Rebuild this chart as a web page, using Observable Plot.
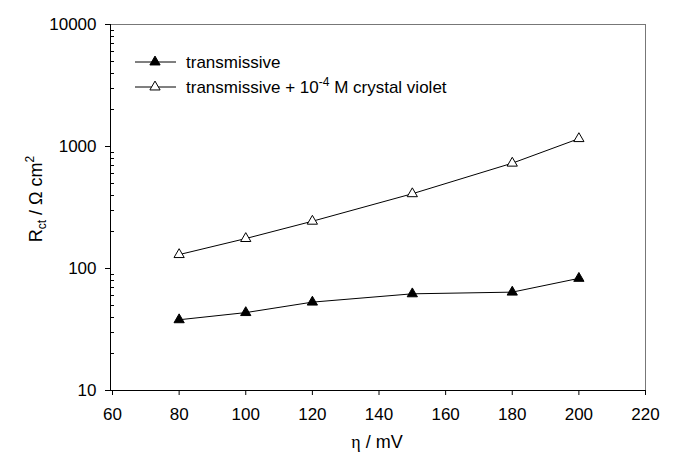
<!DOCTYPE html>
<html><head><meta charset="utf-8">
<script src="https://cdn.jsdelivr.net/npm/d3@7"></script>
<script src="https://cdn.jsdelivr.net/npm/@observablehq/plot@0.6"></script>
<style>body{margin:0;background:#fff;} #chart{width:677px;height:452px;}</style>
</head><body><div id="chart"></div>
<script>
const eta = [80, 100, 120, 150, 180, 200];
const rctTransmissive = [38, 43.5, 53, 62, 64, 83];
const rctCrystalViolet = [130, 176, 244, 410, 730, 1160];
const seriesNames = ["transmissive", "transmissive + 10-4 M crystal violet"];
const xTicks = [60, 80, 100, 120, 140, 160, 180, 200, 220];
const yMajorTicks = [10, 100, 1000, 10000];
const yMinorTicks = [20, 30, 40, 50, 60, 70, 80, 90, 200, 300, 400, 500, 600, 700, 800, 900, 2000, 3000, 4000, 5000, 6000, 7000, 8000, 9000];

const rows = [];
eta.forEach((e, i) => {
  rows.push({eta: e, rct: rctTransmissive[i], series: seriesNames[0]});
});
eta.forEach((e, i) => {
  rows.push({eta: e, rct: rctCrystalViolet[i], series: seriesNames[1]});
});

const W = 677, ML = 110, MR = 32;
const font = "'Liberation Sans', Arial, sans-serif";
const svg = Plot.plot({
  width: W, height: 452,
  marginLeft: ML, marginRight: MR, marginTop: 24, marginBottom: 62,
  style: {fontFamily: font, fontSize: "17px", background: "white", color: "black"},
  x: {domain: [60, 220], range: [112, 645]},
  y: {type: "log", domain: [10, 10000]},
  marks: [
    Plot.ruleY([10000], {stroke: "#777"}),
    Plot.ruleX([220], {stroke: "#777"}),
    Plot.frame({anchor: "left", stroke: "black"}),
    Plot.frame({anchor: "bottom", stroke: "black"}),
    Plot.axisX({ticks: xTicks, tickSize: 5, tickPadding: 12, tickFormat: d => String(d), label: null, fontSize: 17}),
    Plot.axisY({ticks: yMajorTicks, tickSize: 5, tickPadding: 9, tickFormat: d => String(d), label: null, fontSize: 17}),
    Plot.line(rows, {x: "eta", y: "rct", z: "series", stroke: "black", strokeWidth: 1}),
    Plot.dot(rows, {x: "eta", y: "rct", symbol: "triangle", r: 3.8,
      fill: d => d.series === seriesNames[0] ? "black" : "white", stroke: "black", strokeWidth: 1})
  ]
});
document.getElementById("chart").appendChild(svg);

const s = d3.select(svg);
// minor y ticks (inward), positioned with the plot's own y scale
const yScale = svg.scale("y");
s.append("g").attr("stroke", "black").attr("stroke-width", 1)
  .selectAll("line").data(yMinorTicks).join("line")
  .attr("x1", ML).attr("x2", ML + 4)
  .attr("y1", d => Math.round(yScale.apply(d)) + 0.5)
  .attr("y2", d => Math.round(yScale.apply(d)) + 0.5);

// legend
const lg = s.append("g").attr("font-family", font).attr("font-size", 17).attr("fill", "black").attr("text-anchor", "start");
const sym = d3.symbol().type(d3.symbolTriangle).size(Math.PI * 3.8 * 3.8);
[62, 87].forEach((yy, i) => {
  lg.append("line").attr("x1", 135).attr("x2", 176).attr("y1", yy).attr("y2", yy).attr("stroke", "black");
  lg.append("path").attr("d", sym()).attr("transform", `translate(155,${yy})`)
    .attr("fill", i === 0 ? "black" : "white").attr("stroke", "black");
});
lg.append("text").attr("x", 186).attr("y", 68).attr("text-anchor", "start").text(seriesNames[0]);
const t2 = lg.append("text").attr("x", 186).attr("y", 93).attr("text-anchor", "start");
t2.append("tspan").text("transmissive + 10");
t2.append("tspan").attr("font-size", 12).attr("dy", -7).text("-4");
t2.append("tspan").attr("dy", 7).text(" M crystal violet");

// axis titles
const yt = s.append("text").attr("transform", "translate(42,199) rotate(-90)")
  .attr("text-anchor", "middle").attr("font-family", font).attr("font-size", 18).attr("fill", "black");
yt.append("tspan").text("R");
yt.append("tspan").attr("font-size", 12).attr("dy", 4).text("ct");
yt.append("tspan").attr("dy", -4).text(" / Ω cm");
yt.append("tspan").attr("font-size", 12).attr("dy", -8).text("2");

const xt = s.append("text").attr("x", 377).attr("y", 448)
  .attr("text-anchor", "middle").attr("font-family", font).attr("font-size", 18).attr("fill", "black");
xt.append("tspan").attr("font-family", "'Liberation Serif', 'DejaVu Serif', serif").text("η");
xt.append("tspan").text(" / mV");
</script>
</body></html>
